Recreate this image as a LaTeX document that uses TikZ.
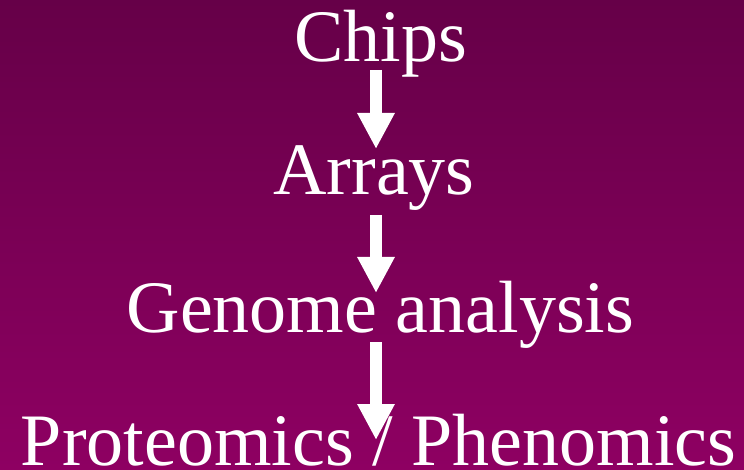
\documentclass[tikz,border=0pt]{standalone}
\usepackage{fontspec}
\setmainfont{Liberation Serif}
\newfontfamily\plumserif{Liberation Serif}
\usetikzlibrary{arrows.meta}
\usetikzlibrary{calc}
\definecolor{topplum}{RGB}{102,0,72}
\definecolor{lowplum}{RGB}{142,0,98}

\begin{document}
\begin{tikzpicture}[x=1pt,y=1pt,
word/.style={text=white, font=\plumserif\fontsize{74}{80}\selectfont, anchor=base, inner sep=0pt},
downarrow/.style={white, line width=12pt, -{Triangle[width=35pt,length=36pt]}}]
\shade[top color=topplum, bottom color=lowplum] (0,0) rectangle (744,469);
\useasboundingbox (0,0) rectangle (744,469);
\coordinate (axis) at (376,0);
\node[word] (chips) at (380.5,407) {Chips};
\node[word] (arrays) at (374,274) {Arrays};
\node[word] (genome) at (380.5,137) {Genome analysis};
\node[word] (omics) at (378.5,4) {Proteomics / Phenomics};
\draw[downarrow] ($(chips.base -| axis)+(0,-8)$) -- ($(arrays.base -| axis)+(0,46)$);
\draw[downarrow] ($(arrays.base -| axis)+(0,-20)$) -- ($(genome.base -| axis)+(0,39)$);
\draw[downarrow] ($(genome.base -| axis)+(0,-10)$) -- ($(omics.base -| axis)+(0,25)$);
\end{tikzpicture}
\end{document}
